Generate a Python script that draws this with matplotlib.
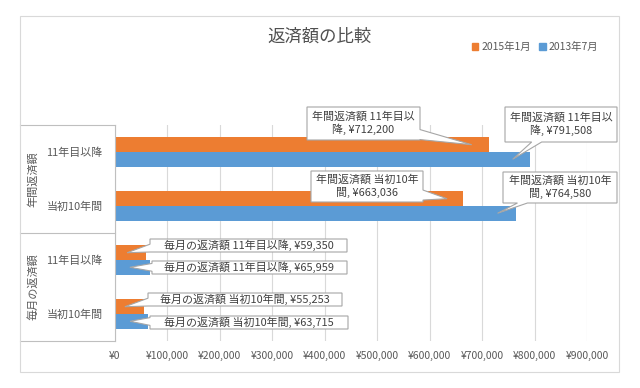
import matplotlib
matplotlib.use('Agg')
import matplotlib.pyplot as plt
from matplotlib.patches import Rectangle, Patch, Polygon
from matplotlib.ticker import FuncFormatter
import matplotlib.transforms as mtransforms

plt.rcParams['font.family'] = ['Noto Sans CJK JP', 'DejaVu Sans']

# data
groups = ['年間返済額', '毎月の返済額']
categories = ['11年目以降', '当初10年間', '11年目以降', '当初10年間']
series_names = ['2015年1月', '2013年7月']
jan2015 = [712200, 663036, 59350, 55253]
jul2013 = [791508, 764580, 65959, 63715]
xticks = list(range(0, 900001, 100000))

orange = '#ED7D31'
blue = '#5B9BD5'
txt = '#595959'
line = '#bfbfbf'

fig = plt.figure(figsize=(6.4, 3.88), dpi=100)
W, H = 640, 388
ident = mtransforms.IdentityTransform()

# chart border
fig.patches.append(Rectangle((20 / W, 1 - 372 / H), 599 / W, 356 / H,
                             transform=fig.transFigure, fill=False,
                             ec='#d9d9d9', lw=0.8))

ax = fig.add_axes([115 / W, 1 - 341 / H, 472 / W, 216 / H])
ypos = list(range(len(categories)))
h = 0.27
ax.barh([y - h / 2 for y in ypos], jan2015, height=h, color=orange, zorder=2)
ax.barh([y + h / 2 for y in ypos], jul2013, height=h, color=blue, zorder=2)

ax.set_xlim(0, 900000)
ax.set_ylim(3.5, -0.5)
ax.set_xticks(xticks)
ax.xaxis.set_major_formatter(FuncFormatter(lambda v, p: '¥{:,}'.format(int(v))))
ax.grid(axis='x', color='#d9d9d9', lw=0.8, zorder=0)
ax.set_axisbelow(True)
ax.tick_params(axis='x', length=0, pad=7, labelsize=7.5, labelcolor=txt)
ax.set_yticks(ypos)
ax.set_yticklabels(categories)
ax.tick_params(axis='y', length=0, pad=9, labelsize=7.9, labelcolor=txt)
for s in ['top', 'right', 'bottom']:
    ax.spines[s].set_visible(False)
ax.spines['left'].set_color(line)
ax.spines['left'].set_linewidth(0.8)

# category group box
blend = mtransforms.blended_transform_factory(ax.transAxes, ax.transData)
x_left = (20 - 115) / 472
for yb in [-0.5, 1.5, 3.5]:
    ax.plot([x_left, 0], [yb, yb], color=line, lw=0.8, transform=blend, clip_on=False)
for i, g in enumerate(groups):
    ax.text((33 - 115) / 472, 2 * i + 0.5, g, rotation=90, ha='center', va='center',
            fontsize=8, color=txt, transform=blend)

# title and legend
fig.text(320 / W, 1 - 37 / H, '返済額の比較', ha='center', va='center', fontsize=12.5, color='#505050')
handles = [Patch(color=orange, label=series_names[0]), Patch(color=blue, label=series_names[1])]
fig.legend(handles=handles, loc='center left', bbox_to_anchor=(472 / W, 1 - 47 / H), ncol=2,
           frameon=False, fontsize=7.5, handlelength=0.6, handleheight=0.6,
           handletextpad=0.3, columnspacing=0.8, borderpad=0, borderaxespad=0,
           labelcolor=txt)


def callout(box, tip, text):
    # box = (left, top, right, bottom) in image pixels, tip in display coords
    x0, x1 = box[0], box[2]
    yb, yt = H - box[3], H - box[1]
    cx, cy = (x0 + x1) / 2, (yb + yt) / 2
    dx, dy = tip[0] - cx, tip[1] - cy
    hw, hh = (x1 - x0) / 2, (yt - yb) / 2
    tx = hw / abs(dx) if dx else 1e9
    ty = hh / abs(dy) if dy else 1e9
    corners = [(x0, yb), (x1, yb), (x1, yt), (x0, yt)]
    if tx < ty:
        c = cy + dy * tx
        w = min(5, hh * 0.6)
        c = min(max(c, yb + w), yt - w)
        if dx > 0:   # right edge, going up
            ins, after = [(x1, c - w), tip, (x1, c + w)], 1
        else:        # left edge, going down
            ins, after = [(x0, c + w), tip, (x0, c - w)], 3
    else:
        c = cx + dx * ty
        w = 5
        c = min(max(c, x0 + w), x1 - w)
        if dy < 0:   # bottom edge, going right
            ins, after = [(c - w, yb), tip, (c + w, yb)], 0
        else:        # top edge, going left
            ins, after = [(c + w, yt), tip, (c - w, yt)], 2
    verts = corners[:after + 1] + ins + corners[after + 1:]
    fig.add_artist(Polygon(verts, closed=True, fc='white', ec='#a6a6a6', lw=0.8,
                           transform=ident, zorder=5))
    fig.add_artist(plt.Text(cx, cy + 0.5, text, ha='center', va='center', fontsize=7.9,
                            color='#404040', linespacing=1.25, transform=ident, zorder=6))


# callout boxes (left, top, right, bottom) in pixels, tip as fraction of bar length
boxes = [(307, 107, 420, 140), (311, 171, 423, 202), (150, 239, 347, 252), (148, 293, 342, 306),
         (505, 107, 617, 142), (503, 172, 617, 203), (152, 261, 347, 274), (150, 316, 348, 329)]
tip_frac = [0.955, 0.955, 0.39, 0.34, 0.958, 0.954, 0.43, 0.45]
k = 0
for vals, off in [(jan2015, -h / 2), (jul2013, h / 2)]:
    for i, v in enumerate(vals):
        label = '{} {}, ¥{:,}'.format(groups[i // 2], categories[i], v)
        if i < 2:
            label = label[:11] + '\n' + label[11:]
        tip = tuple(ax.transData.transform((v * tip_frac[k], i + off)))
        callout(boxes[k], tip, label)
        k += 1

fig.savefig('out.png', dpi=100)
